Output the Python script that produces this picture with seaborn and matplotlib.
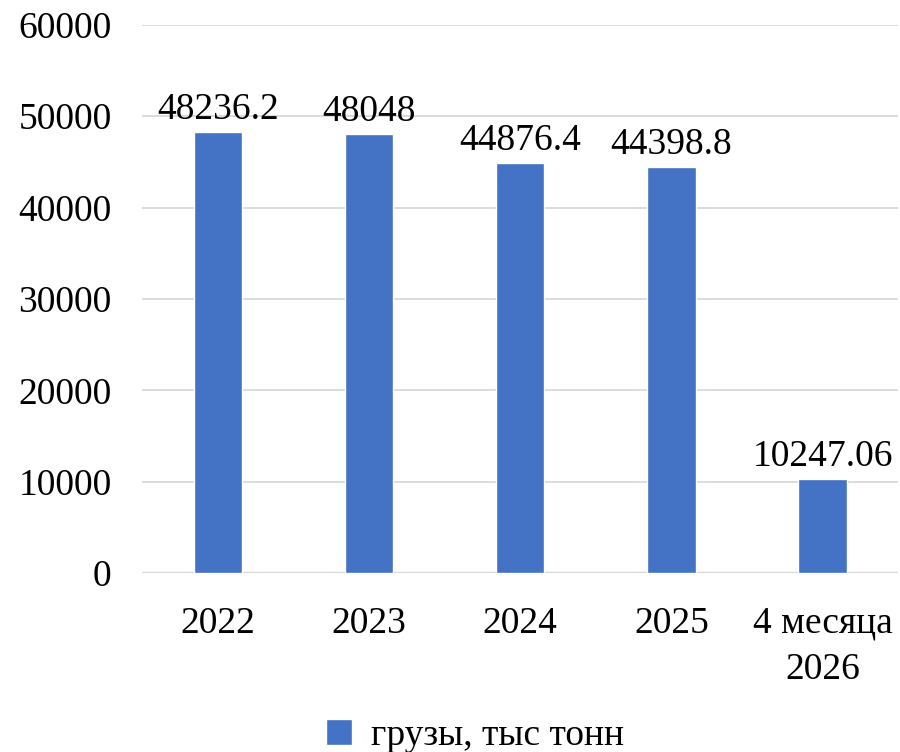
import seaborn as sns
import pandas as pd
import matplotlib.pyplot as plt

# values from the chart
periods = ['2022', '2023', '2024', '2025', '4 месяца\n2026']
cargo = [48236.2, 48048, 44876.4, 44398.8, 10247.06]
value_labels = ['48236.2', '48048', '44876.4', '44398.8', '10247.06']
series_name = 'грузы, тыс тонн'

df = pd.DataFrame({'period': periods, 'cargo': cargo})

sns.set_style('white')
plt.rcParams['font.family'] = ['Liberation Serif', 'DejaVu Serif']
plt.rcParams['text.color'] = 'black'
plt.rcParams['xtick.color'] = 'black'
plt.rcParams['ytick.color'] = 'black'

fig = plt.figure(figsize=(9, 7.52), dpi=100)
ax = fig.add_axes([0.158, 0.238, 0.84, 0.729])

sns.barplot(data=df, x='period', y='cargo', color='#4472C4', width=0.32,
            saturation=1, ax=ax, label=series_name, zorder=3)

for i, (v, t) in enumerate(zip(cargo, value_labels)):
    ax.text(i, v + 600, t, ha='center', va='bottom', fontsize=27)

ax.set_ylim(0, 60000)
ax.set_yticks(range(0, 60001, 10000))
ax.yaxis.grid(True, color='#d9d9d9', linewidth=1.3, zorder=0)
ax.set_axisbelow(True)
for s in ax.spines.values():
    s.set_visible(False)
ax.axhline(0, color='#d9d9d9', linewidth=2.5, zorder=2)
ax.tick_params(axis='both', length=0, labelsize=27)
ax.tick_params(axis='x', pad=24)
ax.tick_params(axis='y', pad=22)
for lbl in ax.get_xticklabels():
    lbl.set_linespacing(1.45)
ax.set_xlabel('')
ax.set_ylabel('')

ax.legend(loc='lower center', bbox_to_anchor=(0.44, -0.39), frameon=False,
          fontsize=27, handlelength=0.7, handleheight=0.7, handletextpad=0.5)

fig.savefig('out.png', dpi=100)
